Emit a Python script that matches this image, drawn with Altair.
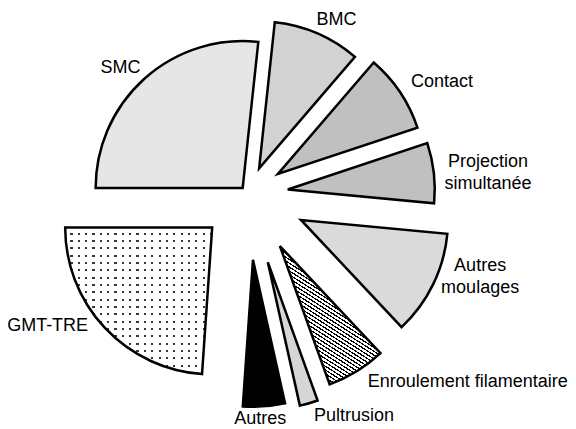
import math
import altair as alt
import pandas as pd

# ---- data ----
categories = ["SMC", "BMC", "Contact", "Projection simultanée", "Autres moulages",
              "Enroulement filamentaire", "Pultrusion", "Autres", "GMT-TRE"]
shares = [26.7, 9.6, 8.6, 6.6, 11.5, 6.5, 2.0, 4.6, 23.9]
labels = ["SMC", "BMC", "Contact", "Projection\nsimultanée", "Autres\nmoulages",
          "Enroulement filamentaire", "Pultrusion", "Autres", "GMT-TRE"]

# ---- styling (not data) ----
fills = ["#e6e6e6", "#d2d2d2", "#c0c0c0", "#c0c0c0", "#dadada",
         "#ffffff", "#d6d6d6", "#000000", "#383838"]
explode = [8, 28, 36, 40, 59, 61, 71, 66, 49]          # px, radial offset of each slice
label_radius = [171, 167, 188, 201, 188, 232, 176, 159, 192]
label_nudge = [-3.7, 4.2, 4.7, 1.7, -8.45, -22.6, -13.1, 1.7, 12]  # degrees
LINE_H = 22

CX, CY = 240, 186
R = 147
START = 1.5 * math.pi


def bands(n, c1, c2, duty, x1, y1, x2, y2):
    stops = []
    for k in range(n):
        a = k / n
        b = (k + duty) / n
        c = (k + 1) / n
        stops += [{"offset": a, "color": c1}, {"offset": b, "color": c1},
                  {"offset": b, "color": c2}, {"offset": c, "color": c2}]
    return {"gradient": "linear", "x1": x1, "y1": y1, "x2": x2, "y2": y2, "stops": stops}


stripes = bands(44, "#000000", "#ffffff", 0.38, 0.731, 0, 0.269, 1)
clear = "rgba(255,255,255,0)"
rows_mask = bands(20, "#ffffff", clear, 0.7, 0, 0, 0, 1)
cols_mask = bands(20, "#ffffff", clear, 0.7, 0, 0, 1, 0)

df = pd.DataFrame({
    "order": list(range(len(categories))),
    "category": categories,
    "share": shares,
    "label": labels,
    "explode": explode,
    "lr": label_radius,
    "nudge": label_nudge,
})

base = (
    alt.Chart(df)
    .transform_joinaggregate(total="sum(share)")
    .transform_window(cum="sum(share)", sort=[alt.SortField("order")], frame=[None, 0])
    .transform_calculate(f0="(datum.cum - datum.share) / datum.total")
    .transform_calculate(f1="datum.cum / datum.total")
    .transform_calculate(mid=f"{START} + 2 * PI * (datum.cum - datum.share / 2) / datum.total")
    .transform_calculate(cx=f"{CX} + datum.explode * sin(datum.mid)")
    .transform_calculate(cy=f"{CY} - datum.explode * cos(datum.mid)")
    .transform_calculate(nlines="split(datum.label, '\\n').length")
    .transform_calculate(lx="datum.cx + datum.lr * sin(datum.mid + datum.nudge * PI / 180)")
    .transform_calculate(ly=f"datum.cy - datum.lr * cos(datum.mid + datum.nudge * PI / 180) - (datum.nlines - 1) * {LINE_H} / 2")
)

pos = dict(
    x=alt.X("cx:Q", scale=None, axis=None),
    y=alt.Y("cy:Q", scale=None, axis=None),
    theta=alt.Theta("f0:Q", scale=alt.Scale(domain=[0, 1], range=[START, START + 2 * math.pi]), stack=False),
    theta2=alt.Theta2("f1:Q"),
)

fill_layer = base.mark_arc(radius=R, strokeWidth=0).encode(
    color=alt.Color("category:N", scale=alt.Scale(domain=categories, range=fills), legend=None),
    **pos,
)

enroul = base.transform_filter(alt.datum.category == "Enroulement filamentaire").mark_arc(
    radius=R, fill=stripes, strokeWidth=0).encode(**pos)

gmt = base.transform_filter(alt.datum.category == "GMT-TRE")
gmt_rows = gmt.mark_arc(radius=R, fill=rows_mask, strokeWidth=0).encode(**pos)
gmt_cols = gmt.mark_arc(radius=R, fill=cols_mask, strokeWidth=0).encode(**pos)

outline = base.mark_arc(radius=R, fillOpacity=0, stroke="black", strokeWidth=2.5,
                        strokeJoin="miter").encode(**pos)

text = base.mark_text(font="Liberation Sans", fontSize=18, lineHeight=LINE_H, lineBreak="\n",
                      align="center", baseline="middle", color="black").encode(
    x=alt.X("lx:Q", scale=None, axis=None),
    y=alt.Y("ly:Q", scale=None, axis=None),
    text="label:N",
)

chart = (
    alt.layer(fill_layer, enroul, gmt_rows, gmt_cols, outline, text)
    .properties(width=560, height=421, padding=0, autosize="none")
    .configure_view(strokeWidth=0)
)

chart.save("out.html", embed_options={"renderer": "svg", "actions": False})
